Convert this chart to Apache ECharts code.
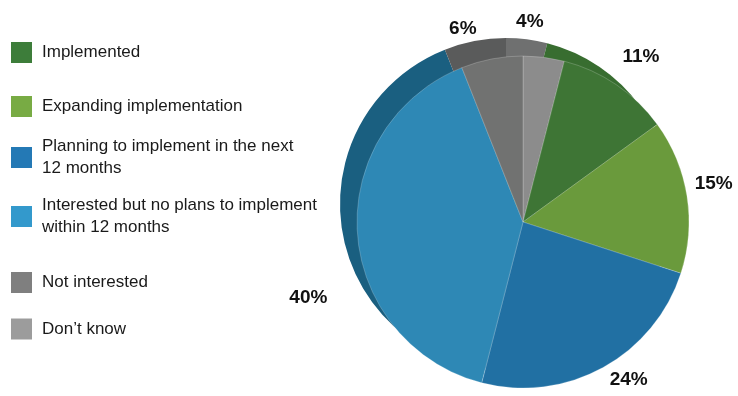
<!DOCTYPE html>
<html>
<head>
<meta charset="utf-8">
<script src="https://cdn.jsdelivr.net/npm/echarts@6/dist/echarts.min.js"></script>
<style>
  html, body { margin: 0; padding: 0; background: #ffffff; }
  #chart { width: 738px; height: 396px; }
</style>
</head>
<body>
<div id="chart"></div>
<script>
// Slices in drawing order, clockwise from 12 o'clock
const categories = [
  'Don\u2019t know',
  'Implemented',
  'Expanding implementation',
  'Planning to implement in the next 12 months',
  'Interested but no plans to implement within 12 months',
  'Not interested'
];
const shares = [4, 11, 15, 24, 40, 6];

// Legend order and wrapped legend text
const legendOrder = [
  'Implemented',
  'Expanding implementation',
  'Planning to implement in the next 12 months',
  'Interested but no plans to implement within 12 months',
  'Not interested',
  'Don\u2019t know'
];
const legendText = [
  'Implemented',
  'Expanding implementation',
  'Planning to implement in the next\n12 months',
  'Interested but no plans to implement\nwithin 12 months',
  'Not interested',
  'Don\u2019t know'
];

// Colours
const faceColors = ['#8c8c8c', '#3e7535', '#6a9a3c', '#2170a3', '#2e88b5', '#717271'];
const sideColors = ['#6f7070', '#386d30', '#5a8533', '#1f6890', '#1a5f80', '#5a5b5b'];
const legendColors = ['#3d7d3a', '#78ab44', '#2479b5', '#3399cc', '#7f7f7f', '#9c9c9c'];

// Layout
const legendIconCenters = [52.5, 106.5, 157.5, 216.5, 282.5, 329];
const labelNudge = [[-35, -18], [-9, -13], [-15, -9], [-7, -3], [-7, 64], [-7, -12]];

const FONT = '"Liberation Sans", Arial, sans-serif';
const LINE_H = 22;

const legends = legendOrder.map(function (name, i) {
  const lines = legendText[i].split('\n').length;
  const pad = lines > 1 ? [LINE_H * (lines - 1), 0, 0, 5] : [0, 0, 0, 5];
  const boxH = lines * LINE_H + pad[0];
  return {
    left: 11,
    top: legendIconCenters[i] - boxH / 2,
    orient: 'vertical',
    padding: 0,
    itemWidth: 21,
    itemHeight: 21,
    icon: 'rect',
    selectedMode: false,
    data: [{ name: name, itemStyle: { color: legendColors[i] } }],
    formatter: function () { return legendText[i]; },
    textStyle: {
      fontFamily: FONT,
      fontSize: 17,
      color: '#1a1a1a',
      lineHeight: LINE_H,
      padding: pad
    }
  };
});

const sliceData = categories.map(function (name, i) {
  return { name: name, value: shares[i] };
});

const option = {
  backgroundColor: '#ffffff',
  animation: false,
  legend: legends,
  series: [
    {
      // extruded rim of the disc
      type: 'pie',
      name: 'rim',
      center: [506, 204],
      radius: 166,
      startAngle: 90,
      clockwise: true,
      silent: true,
      avoidLabelOverlap: false,
      label: { show: false },
      labelLine: { show: false },
      itemStyle: {
        color: function (p) { return sideColors[p.dataIndex]; }
      },
      data: sliceData
    },
    {
      // top face of the disc
      type: 'pie',
      name: 'face',
      center: [523, 222],
      radius: 166,
      startAngle: 90,
      clockwise: true,
      avoidLabelOverlap: false,
      itemStyle: {
        color: function (p) { return faceColors[p.dataIndex]; },
        borderColor: 'rgba(255,255,255,0.35)',
        borderWidth: 0.6
      },
      label: {
        show: true,
        position: 'outside',
        formatter: '{c}%',
        fontFamily: FONT,
        fontSize: 19,
        fontWeight: 'bold',
        color: '#111111'
      },
      labelLine: { show: false, length: 18, length2: 0 },
      labelLayout: function (p) {
        return { dx: labelNudge[p.dataIndex][0], dy: labelNudge[p.dataIndex][1] };
      },
      data: sliceData
    }
  ]
};

const chart = echarts.init(document.getElementById('chart'), null, { renderer: 'canvas' });
chart.setOption(option);
</script>
</body>
</html>
